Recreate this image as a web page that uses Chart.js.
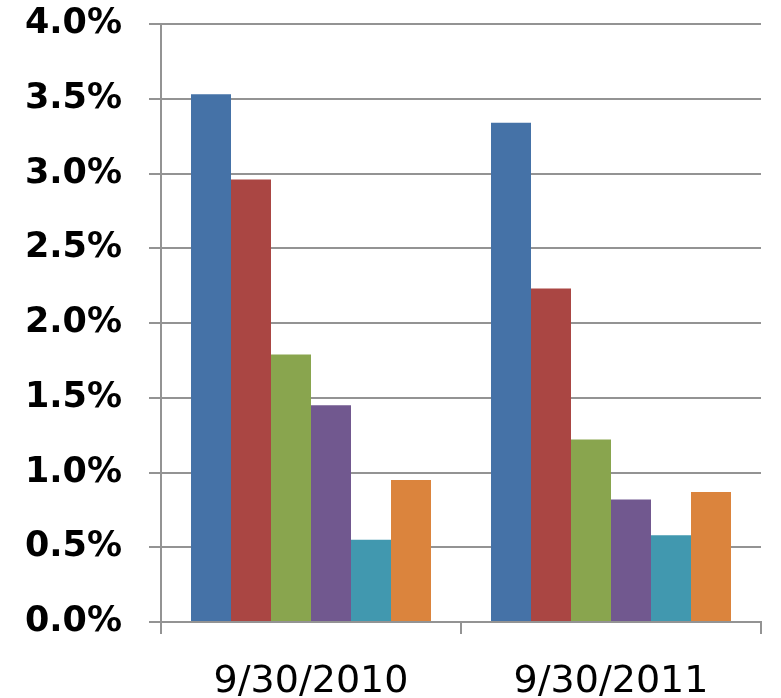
<!DOCTYPE html>
<html>
<head>
<meta charset="utf-8">
<script src="https://cdn.jsdelivr.net/npm/chart.js@4/dist/chart.umd.min.js"></script>
<style>
  html, body { margin: 0; padding: 0; background: #fff; }
  #wrap { width: 781px; height: 698px; }
</style>
</head>
<body>
<div id="wrap"><canvas id="chart" width="781" height="698"></canvas></div>
<script>
// categories and series values (percent)
const categories = ['9/30/2010', '9/30/2011'];
const seriesA = [3.53, 3.34];
const seriesB = [2.96, 2.23];
const seriesC = [1.79, 1.22];
const seriesD = [1.45, 0.82];
const seriesE = [0.55, 0.58];
const seriesF = [0.95, 0.87];
const seriesColors = ['#4572A7', '#AA4643', '#89A54E', '#71588F', '#4198AF', '#DB843D'];
const yTicks = [0, 0.5, 1.0, 1.5, 2.0, 2.5, 3.0, 3.5, 4.0];

const allSeries = [seriesA, seriesB, seriesC, seriesD, seriesE, seriesF];

const gridColor = '#939393';

new Chart(document.getElementById('chart'), {
    type: 'bar',
    data: {
        labels: categories,
        datasets: allSeries.map((vals, i) => ({
            label: 'S' + (i + 1),
            data: vals,
            backgroundColor: seriesColors[i],
            borderWidth: 0,
            categoryPercentage: 0.8,
            barPercentage: 1.0
        }))
    },
    options: {
        responsive: false,
        animation: false,
        layout: { padding: { top: 24, right: 20, left: 0, bottom: 0 } },
        plugins: {
            legend: { display: false },
            tooltip: { enabled: false }
        },
        scales: {
            y: {
                min: 0,
                max: 4.0,
                afterBuildTicks: function(scale) {
                    scale.ticks = yTicks.map(v => ({ value: v }));
                },
                afterFit: function(scale) {
                    scale.width = 161;
                    scale.paddingTop = 0;
                    scale.paddingBottom = 0;
                },
                ticks: {
                    padding: 27,
                    color: '#000',
                    font: { family: 'DejaVu Sans', size: 35, weight: 'bold' },
                    callback: function(v) { return v.toFixed(1) + '%'; }
                },
                grid: {
                    color: gridColor,
                    lineWidth: 2,
                    tickLength: 12
                },
                border: { color: gridColor, width: 2 }
            },
            x: {
                afterFit: function(scale) {
                    scale.height = 76;
                    scale.paddingLeft = 0;
                    scale.paddingRight = 0;
                },
                ticks: {
                    padding: 25,
                    color: '#000',
                    font: { family: 'DejaVu Sans', size: 38 }
                },
                grid: {
                    offset: true,
                    drawOnChartArea: false,
                    color: gridColor,
                    lineWidth: 2,
                    tickLength: 12
                },
                border: { color: gridColor, width: 2 }
            }
        }
    }
});
</script>
</body>
</html>
